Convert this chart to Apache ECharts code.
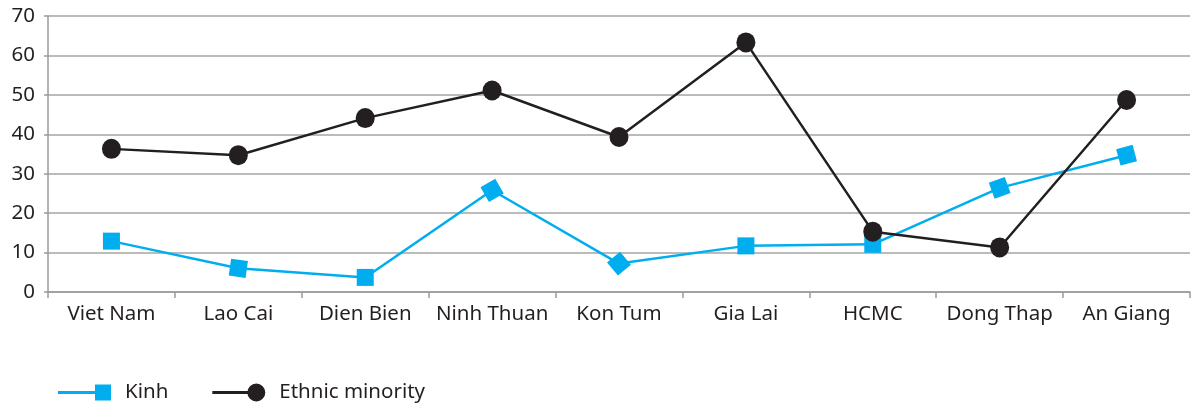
<!DOCTYPE html>
<html>
<head>
<meta charset="utf-8">
<script src="https://cdn.jsdelivr.net/npm/echarts@6/dist/echarts.min.js"></script>
<style>
  html, body { margin: 0; padding: 0; background: #fff; }
  #chart { width: 1194px; height: 403px; }
</style>
</head>
<body>
<div id="chart"></div>
<script>
  const provinces = ['Viet Nam', 'Lao Cai', 'Dien Bien', 'Ninh Thuan', 'Kon Tum', 'Gia Lai', 'HCMC', 'Dong Thap', 'An Giang'];
  const kinh = [12.9, 6.0, 3.7, 25.8, 7.2, 11.7, 12.1, 26.4, 34.7];
  const ethnicMinority = [36.3, 34.7, 44.1, 51.1, 39.3, 63.3, 15.3, 11.3, 48.7];
  const yTicks = { min: 0, max: 70, step: 10 };

  // square markers in the original are slightly tilted along the line
  const kinhTilt = [0, -8, 0, 30, 40, 0, 0, 20, 15];

  const FONT = 'Noto Sans';
  const BLUE = '#00aeef';
  const DARK = '#231f20';

  const chart = echarts.init(document.getElementById('chart'));

  const option = {
    animation: false,
    textStyle: { fontFamily: FONT },
    grid: { left: 48, right: 4, top: 16, bottom: 111 },
    legend: {
      left: 53,
      top: 377,
      itemGap: 44,
      itemWidth: 53,
      itemHeight: 18,
      textStyle: { fontFamily: FONT, fontSize: 20.5, color: '#231f20', padding: [0, 0, 0, 9] },
      data: [
        { name: 'Kinh', icon: 'path://M0,7.5L45,7.5L45,10.5L0,10.5Z M37,1L53,1L53,17L37,17Z', itemStyle: { color: BLUE } },
        { name: 'Ethnic minority', icon: 'path://M0,7.5L40,7.5L40,10.5L0,10.5Z M44,0A9,9 0 1,1 44,18A9,9 0 1,1 44,0Z', itemStyle: { color: DARK } }
      ]
    },
    xAxis: {
      type: 'category',
      data: provinces,
      axisLine: { lineStyle: { color: '#9a9a9a', width: 1.5 } },
      axisTick: { show: true, length: 6, lineStyle: { color: '#9a9a9a', width: 1.5 } },
      axisLabel: { color: '#231f20', fontSize: 20.5, margin: 12, interval: 0 }
    },
    yAxis: {
      type: 'value',
      min: yTicks.min,
      max: yTicks.max,
      interval: yTicks.step,
      axisLine: { show: true, lineStyle: { color: '#9a9a9a', width: 1.5 } },
      axisTick: { show: true, length: 4, lineStyle: { color: '#9a9a9a', width: 1.5 } },
      axisLabel: { color: '#231f20', fontSize: 20.5, margin: 13 },
      splitLine: { lineStyle: { color: '#a4a4a4', width: 1.5 } }
    },
    series: [
      {
        name: 'Kinh',
        type: 'line',
        data: kinh.map((v, i) => ({ value: v, symbolRotate: kinhTilt[i] })),
        symbol: 'rect',
        symbolSize: 17,
        lineStyle: { color: BLUE, width: 2.5 },
        itemStyle: { color: BLUE },
        z: 2
      },
      {
        name: 'Ethnic minority',
        type: 'line',
        data: ethnicMinority,
        symbol: 'circle',
        symbolSize: [19, 20],
        lineStyle: { color: DARK, width: 2.5 },
        itemStyle: { color: DARK },
        z: 3
      }
    ]
  };

  chart.setOption(option);
</script>
</body>
</html>
